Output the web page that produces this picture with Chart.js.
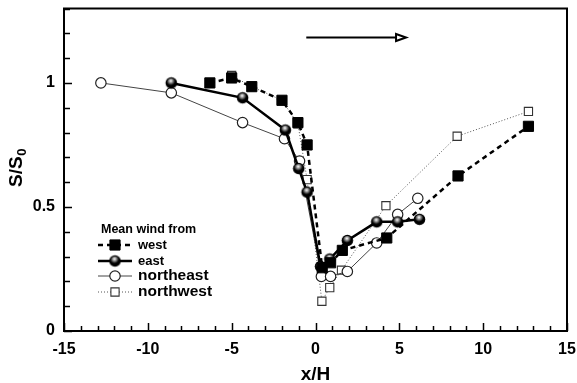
<!DOCTYPE html>
<html><head><meta charset="utf-8">
<script src="https://cdn.jsdelivr.net/npm/chart.js@4.4.0/dist/chart.umd.min.js"></script>
<style>html,body{margin:0;padding:0;background:#fff;}#wrap{width:577px;height:383px;}</style>
</head><body><div id="wrap"><canvas id="c" width="577" height="383"></canvas></div>
<script>
// ---- data ----
const westX = [-6.3, -5.0, -3.8, -2.0, -1.05, -0.5, 0.4, 0.9, 1.6, 4.25, 8.5, 12.7];
const westY = [1.00, 1.02, 0.985, 0.93, 0.84, 0.75, 0.255, 0.275, 0.325, 0.375, 0.625, 0.825];
const eastX = [-8.6, -4.35, -1.8, -1.0, -0.5, 0.3, 0.85, 1.9, 3.65, 4.9, 6.2];
const eastY = [1.00, 0.94, 0.81, 0.655, 0.56, 0.26, 0.29, 0.365, 0.44, 0.44, 0.45];
const northeastX = [-12.8, -8.6, -4.35, -1.85, -0.95, 0.35, 0.9, 1.9, 3.65, 4.9, 6.1];
const northeastY = [1.00, 0.96, 0.84, 0.775, 0.685, 0.22, 0.22, 0.24, 0.355, 0.47, 0.535];
const northwestX = [-5.0, -3.8, -2.0, -1.05, -0.5, 0.38, 0.85, 1.55, 4.2, 8.45, 12.7];
const northwestY = [1.03, 0.985, 0.93, 0.835, 0.61, 0.12, 0.175, 0.245, 0.505, 0.785, 0.885];
const seriesNames = ['west', 'east', 'northeast', 'northwest'];
const legendTitle = 'Mean wind from';
const xTickLabels = [-15, -10, -5, 0, 5, 10, 15];
const yTickLabels = [0, 0.5, 1];
const xTitle = 'x/H';
const yTitleMain = 'S/S', yTitleSub = '0';
const arrowStart = [-0.55, 1.183], arrowEnd = [5.4, 1.183];

function pts(xs, ys) { return xs.map((x, i) => ({x: x, y: ys[i]})); }

function ballImage(r) {
  const c = document.createElement('canvas');
  const s = Math.ceil(r * 2 + 3); c.width = s; c.height = s;
  const g = c.getContext('2d'); const cx = s / 2, cy = s / 2;
  g.beginPath(); g.arc(cx, cy, r, 0, Math.PI * 2); g.fillStyle = '#000'; g.fill();
  const grd = g.createRadialGradient(cx - 0.5, cy - 2, 0.3, cx - 0.5, cy - 2, r * 0.75);
  grd.addColorStop(0, 'rgba(255,255,255,0.95)'); grd.addColorStop(1, 'rgba(255,255,255,0)');
  g.beginPath(); g.arc(cx, cy, r - 1.3, 0, Math.PI * 2); g.fillStyle = grd; g.fill();
  return c;
}
const ball = ballImage(5.8);

const FONT = "'Liberation Sans', Arial, Helvetica, sans-serif";

const datasets = [
  {label: seriesNames[0], data: pts(westX, westY), borderColor: '#000', borderWidth: 2.5, borderDash: [5, 4],
   pointStyle: 'rect', pointRadius: 7.2, pointBackgroundColor: '#000', pointBorderColor: '#000', pointBorderWidth: 1},
  {label: seriesNames[1], data: pts(eastX, eastY), borderColor: '#000', borderWidth: 2.5,
   pointStyle: ball, pointRadius: 6, pointBackgroundColor: '#000', pointBorderColor: '#000'},
  {label: seriesNames[2], data: pts(northeastX, northeastY), borderColor: '#444', borderWidth: 1,
   pointStyle: 'circle', pointRadius: 5.2, pointBackgroundColor: '#fff', pointBorderColor: '#222', pointBorderWidth: 1.2},
  {label: seriesNames[3], data: pts(northwestX, northwestY), borderColor: '#555', borderWidth: 1, borderDash: [1, 2],
   pointStyle: 'rect', pointRadius: 5.8, pointBackgroundColor: '#fff', pointBorderColor: '#333', pointBorderWidth: 1.1}
];
datasets.forEach(d => { d.showLine = true; d.fill = false; d.tension = 0; });

const decor = {
  id: 'decor',
  beforeDatasetsDraw(chart) {
    const ctx = chart.ctx, a = chart.chartArea, xs = chart.scales.x, ys = chart.scales.y;
    ctx.save();
    ctx.strokeStyle = '#000'; ctx.lineWidth = 2;
    ctx.strokeRect(a.left, a.top, a.right - a.left, a.bottom - a.top);
    ctx.lineWidth = 1.5;
    for (let v = xs.min; v <= xs.max; v += 1) {
      const px = Math.round(xs.getPixelForValue(v)) + 0.5;
      const len = (v % 5 === 0) ? 8 : 5;
      ctx.beginPath(); ctx.moveTo(px, a.bottom); ctx.lineTo(px, a.bottom - len); ctx.stroke();
    }
    for (let k = 0; k <= 13; k++) {
      const v = k / 10;
      const py = Math.round(ys.getPixelForValue(v)) + 0.5;
      const len = (k % 5 === 0) ? 8 : 6;
      ctx.beginPath(); ctx.moveTo(a.left, py); ctx.lineTo(a.left + len, py); ctx.stroke();
    }
    // arrow
    const ax0 = xs.getPixelForValue(arrowStart[0]), ay = ys.getPixelForValue(arrowStart[1]);
    const ax1 = xs.getPixelForValue(arrowEnd[0]);
    ctx.lineWidth = 2;
    ctx.beginPath(); ctx.moveTo(ax0, ay); ctx.lineTo(ax1 - 10, ay); ctx.stroke();
    ctx.beginPath(); ctx.moveTo(ax1 - 10, ay - 3.5); ctx.lineTo(ax1, ay); ctx.lineTo(ax1 - 10, ay + 3.5); ctx.closePath();
    ctx.fillStyle = '#fff'; ctx.fill(); ctx.stroke();
    ctx.restore();
  },
  afterDraw(chart) {
    const ctx = chart.ctx, a = chart.chartArea;
    ctx.save();
    ctx.fillStyle = '#000';
    ctx.font = 'bold 19px ' + FONT;
    ctx.textAlign = 'center'; ctx.textBaseline = 'middle';
    ctx.fillText(xTitle, (a.left + a.right) / 2, 375);
    ctx.translate(17, 168); ctx.rotate(-Math.PI / 2);
    ctx.font = 'bold 19px ' + FONT;
    const w1 = ctx.measureText(yTitleMain).width;
    ctx.font = 'bold 13px ' + FONT;
    const w2 = ctx.measureText(yTitleSub).width;
    const start = -(w1 + w2) / 2;
    ctx.textAlign = 'left';
    ctx.font = 'bold 19px ' + FONT;
    ctx.fillText(yTitleMain, start, 0);
    ctx.font = 'bold 13px ' + FONT;
    ctx.fillText(yTitleSub, start + w1 + 0.5, 5);
    ctx.setTransform(1, 0, 0, 1, 0, 0);
    // legend
    ctx.textAlign = 'left'; ctx.textBaseline = 'middle';
    ctx.font = 'bold 12.5px ' + FONT;
    ctx.fillText(legendTitle, 101, 230);
    const rows = [245, 261, 276, 292];
    const sizes = [13, 13, 15.5, 15.5];
    chart.data.datasets.forEach((d, i) => {
      const y = rows[i];
      ctx.save();
      ctx.strokeStyle = d.borderColor; ctx.lineWidth = d.borderWidth;
      ctx.setLineDash(d.borderDash || []);
      ctx.beginPath(); ctx.moveTo(98, y); ctx.lineTo(132, y); ctx.stroke();
      ctx.setLineDash([]);
      ctx.fillStyle = d.pointBackgroundColor; ctx.strokeStyle = d.pointBorderColor;
      ctx.lineWidth = d.pointBorderWidth || 1;
      Chart.helpers.drawPoint(ctx, {pointStyle: d.pointStyle, radius: d.pointRadius, rotation: 0, borderWidth: d.pointBorderWidth || 1}, 115, y);
      ctx.restore();
      ctx.fillStyle = '#000';
      ctx.font = 'bold ' + sizes[i] + 'px ' + FONT;
      ctx.fillText(d.label, 138, y);
    });
    ctx.restore();
  }
};

new Chart(document.getElementById('c'), {
  type: 'scatter',
  data: {datasets: datasets},
  options: {
    responsive: false, animation: false, devicePixelRatio: 1,
    layout: {padding: {top: 7, right: 10, left: 0, bottom: 0}},
    plugins: {legend: {display: false}, tooltip: {enabled: false}},
    scales: {
      x: {type: 'linear', min: -15, max: 15,
        afterBuildTicks: s => { s.ticks = xTickLabels.map(v => ({value: v})); },
        afterFit: s => { s.height = 52; s.paddingLeft = 0; s.paddingRight = 0; },
        grid: {display: false, drawTicks: false}, border: {display: false},
        ticks: {padding: 9, color: '#000', font: {family: FONT, size: 16, weight: 'bold'}, maxRotation: 0,
                callback: v => String(v)}},
      y: {type: 'linear', min: 0, max: 1.3,
        afterBuildTicks: s => { s.ticks = yTickLabels.map(v => ({value: v})); },
        afterFit: s => { s.width = 64; s.paddingTop = 0; s.paddingBottom = 0; },
        grid: {display: false, drawTicks: false}, border: {display: false},
        ticks: {padding: 9, color: '#000', font: {family: FONT, size: 16, weight: 'bold'},
                callback: v => String(v)}}
    }
  },
  plugins: [decor]
});
</script></body></html>
